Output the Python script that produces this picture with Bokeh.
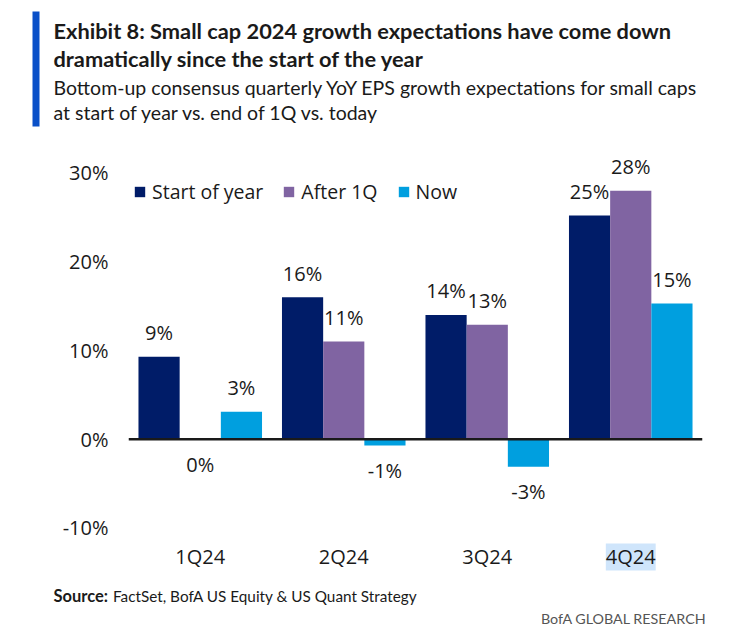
from bokeh.plotting import figure
from bokeh.layouts import column
from bokeh.models import (ColumnDataSource, FactorRange, Range1d, LabelSet, Legend,
                          LegendItem, Span, Label, FixedTicker, BoxAnnotation)
from bokeh.core.properties import value
from bokeh.transform import dodge
from bokeh.embed import file_html
from bokeh.resources import INLINE

# ---- data ----
quarters = ["1Q24", "2Q24", "3Q24", "4Q24"]
start_of_year = [9.3, 16.0, 14.0, 25.2]
after_1q = [0.0, 11.0, 12.9, 28.0]
now = [3.1, -0.7, -3.1, 15.3]
series_names = ["Start of year", "After 1Q", "Now"]
y_ticks = [-10, 0, 10, 20, 30]
y_tick_labels = ["-10%", "0%", "10%", "20%", "30%"]

title_lines = ["Exhibit 8: Small cap 2024 growth expectations have come down",
               "dramatically since the start of the year"]
sub_lines = ["Bottom-up consensus quarterly YoY EPS growth expectations for small caps",
             "at start of year vs. end of 1Q vs. today"]
source_label = "Source:"
source_text = "FactSet, BofA US Equity & US Quant Strategy"
brand_text = "BofA GLOBAL RESEARCH"

colors = ["#001c68", "#8064a2", "#009fdf"]
MAIN_FONT = "Open Sans"
HEAD_FONT = "Lato"
TXT = "#1a1a1a"

W = 725
HEAD_H, MAIN_H, FOOT_H = 140, 440, 52


def blank_fig(h):
    f = figure(width=W, height=h, x_range=Range1d(0, W), y_range=Range1d(0, h),
               output_backend="svg", toolbar_location=None, title=None,
               min_border_left=0, min_border_right=0,
               min_border_top=0, min_border_bottom=0, frame_align=False)
    f.axis.visible = False
    f.grid.visible = False
    f.outline_line_color = None
    return f


# ---- header ----
head = blank_fig(HEAD_H)
head.add_layout(BoxAnnotation(left=32, right=39, top=HEAD_H - 11, bottom=HEAD_H - 126,
                              left_units="screen", right_units="screen", top_units="screen",
                              bottom_units="screen", fill_color="#0a50c8", fill_alpha=1,
                              line_color=None))
for txt, yy in zip(title_lines, [29.5, 58]):
    head.add_layout(Label(x=53, y=HEAD_H - yy, x_units="screen", y_units="screen", text=txt,
                          text_font=HEAD_FONT, text_font_style="bold", text_font_size="21.8px",
                          text_baseline="middle", text_color=TXT))
for txt, yy in zip(sub_lines, [87, 112]):
    head.add_layout(Label(x=53, y=HEAD_H - yy, x_units="screen", y_units="screen", text=txt,
                          text_font=HEAD_FONT, text_font_size="19.5px",
                          text_baseline="middle", text_color=TXT))

# ---- main chart ----
ZERO_PX, PX_PER_UNIT, TOP_PX = 438.7, 8.874, 140
y_top = (ZERO_PX - TOP_PX) / PX_PER_UNIT
y_bot = -(TOP_PX + MAIN_H - ZERO_PX) / PX_PER_UNIT

p = figure(x_range=FactorRange(*quarters, range_padding=0), y_range=Range1d(y_bot, y_top),
           width=W, height=MAIN_H, output_backend="svg", toolbar_location=None, title=None,
           min_border_left=128, min_border_right=23, min_border_top=0, min_border_bottom=0,
           frame_align=False)
p.outline_line_color = None
p.xgrid.visible = False
p.ygrid.visible = False
p.xaxis.visible = False

p.yaxis.ticker = FixedTicker(ticks=y_ticks)
p.yaxis.major_label_overrides = {t: l for t, l in zip(y_ticks, y_tick_labels)}
p.yaxis.axis_line_color = None
p.yaxis.major_tick_line_color = None
p.yaxis.minor_tick_line_color = None
p.yaxis.major_tick_out = 0
p.yaxis.major_tick_in = 0
p.yaxis.major_label_standoff = 20
p.yaxis.major_label_text_font = MAIN_FONT
p.yaxis.major_label_text_font_size = "20px"
p.yaxis.major_label_text_color = TXT

bar_w = 0.287
offsets = [-bar_w, 0.0, bar_w]
all_series = [start_of_year, after_1q, now]
legend_items = []
for name, vals, col, off in zip(series_names, all_series, colors, offsets):
    src = ColumnDataSource(dict(
        q=quarters, v=vals,
        txt=[f"{round(v):d}%" for v in vals],
        yo=[24 if v > 0 else -25 for v in vals],
    ))
    r = p.vbar(x=dodge("q", off, range=p.x_range), top="v", bottom=0, width=bar_w,
               source=src, fill_color=col, line_color=None)
    legend_items.append(LegendItem(label=name, renderers=[r]))
    p.add_layout(LabelSet(x=dodge("q", off, range=p.x_range), y="v", text="txt", source=src,
                          y_offset="yo", text_align="center", text_baseline="middle",
                          text_font=value(MAIN_FONT), text_font_size=value("20px"),
                          text_color=TXT))

p.add_layout(Span(location=0, dimension="width", line_color=TXT, line_width=2.5))

# x category labels (4Q24 highlighted as in the reference)
xsrc = ColumnDataSource(dict(q=quarters, y=[y_ticks[0]] * len(quarters),
                             bg=["#ffffff", "#ffffff", "#ffffff", "#cfe5fb"]))
p.add_layout(LabelSet(x="q", y="y", text="q", source=xsrc, y_offset=-29,
                      text_align="center", text_baseline="middle",
                      text_font=value(MAIN_FONT), text_font_size=value("20px"),
                      text_color=TXT, background_fill_color="bg"))

legend = Legend(items=legend_items, orientation="horizontal", location=(5, 375),
                glyph_width=13, glyph_height=13, label_standoff=6, spacing=19,
                padding=0, margin=0, border_line_color=None, background_fill_alpha=0,
                label_text_font=MAIN_FONT, label_text_font_size="19.5px",
                label_text_color=TXT)
p.add_layout(legend, "center")

# ---- footer ----
foot = blank_fig(FOOT_H)
foot.add_layout(Label(x=53, y=FOOT_H - 15, x_units="screen", y_units="screen", text=source_label,
                      text_font=HEAD_FONT, text_font_style="bold", text_font_size="16.5px",
                      text_baseline="middle", text_color=TXT))
foot.add_layout(Label(x=112.5, y=FOOT_H - 15, x_units="screen", y_units="screen", text=source_text,
                      text_font=HEAD_FONT, text_font_size="15.3px",
                      text_baseline="middle", text_color=TXT))
foot.add_layout(Label(x=706, y=FOOT_H - 38, x_units="screen", y_units="screen",
                      text=brand_text, text_align="right",
                      text_font=HEAD_FONT, text_font_size="14.3px",
                      text_baseline="middle", text_color="#555555"))

layout = column(head, p, foot, spacing=0)
open("out.html", "w").write(file_html(layout, INLINE))
